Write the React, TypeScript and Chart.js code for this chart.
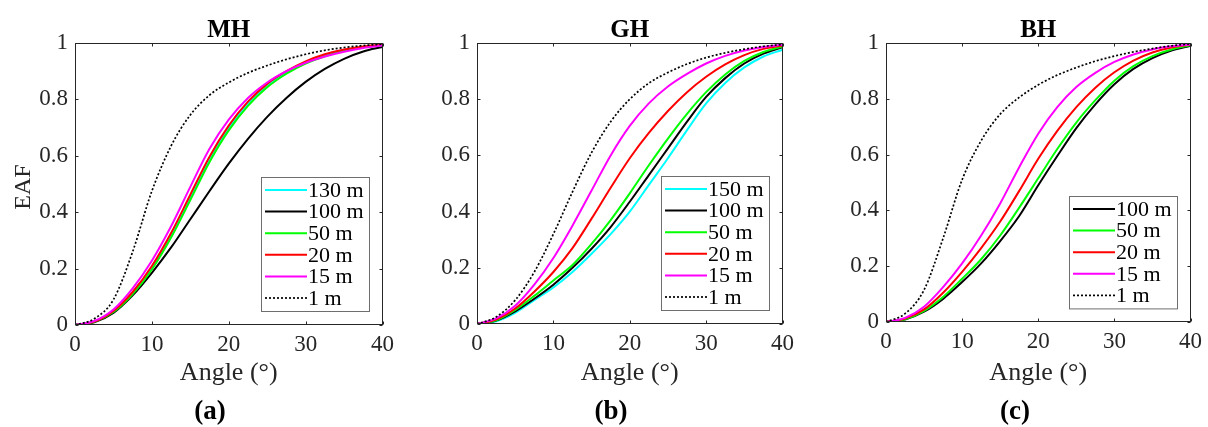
import React, { useEffect, useRef } from 'react';
import { Chart, registerables } from 'chart.js';

Chart.register(...registerables);

// ---------- data ----------
const angles = [0, 2.5, 5, 7.5, 10, 12.5, 15, 17.5, 20, 22.5, 25, 27.5, 30, 32.5, 35, 37.5, 40];
const xTicks = [0, 10, 20, 30, 40];
const xTickLabels = ['0', '10', '20', '30', '40'];
const yTicks = [0, 0.2, 0.4, 0.6, 0.8, 1];
const yTickLabels = ['0', '0.2', '0.4', '0.6', '0.8', '1'];

const panelTitles = ['MH', 'GH', 'BH'];
const panelLetters = ['(a)', '(b)', '(c)'];
const xAxisTitle = 'Angle (°)';
const yAxisTitle = 'EAF';

const mhLabels = ['130 m', '100 m', '50 m', '20 m', '15 m', '1 m'];
const mh130 = [0, 0.012, 0.048, 0.114, 0.204, 0.319, 0.454, 0.589, 0.699, 0.784, 0.848, 0.895, 0.93, 0.955, 0.973, 0.986, 0.994];
const mh100 = [0, 0.01, 0.043, 0.105, 0.185, 0.275, 0.375, 0.475, 0.572, 0.66, 0.738, 0.805, 0.862, 0.908, 0.944, 0.97, 0.986];
const mh50 = [0, 0.011, 0.046, 0.11, 0.197, 0.31, 0.443, 0.578, 0.69, 0.777, 0.843, 0.891, 0.927, 0.953, 0.972, 0.985, 0.993];
const mh20 = [0, 0.012, 0.05, 0.117, 0.209, 0.326, 0.462, 0.597, 0.707, 0.792, 0.855, 0.9, 0.935, 0.96, 0.977, 0.988, 0.994];
const mh15 = [0, 0.014, 0.055, 0.13, 0.228, 0.35, 0.49, 0.625, 0.728, 0.805, 0.86, 0.9, 0.93, 0.952, 0.969, 0.982, 0.991];
const mh1 = [0, 0.022, 0.09, 0.26, 0.475, 0.635, 0.745, 0.815, 0.86, 0.894, 0.92, 0.942, 0.96, 0.974, 0.984, 0.991, 0.996];

const ghLabels = ['150 m', '100 m', '50 m', '20 m', '15 m', '1 m'];
const gh150 = [0, 0.01, 0.04, 0.085, 0.13, 0.185, 0.25, 0.32, 0.4, 0.495, 0.59, 0.69, 0.785, 0.858, 0.913, 0.952, 0.976];
const gh100 = [0, 0.012, 0.045, 0.09, 0.14, 0.2, 0.268, 0.345, 0.435, 0.53, 0.625, 0.72, 0.808, 0.875, 0.927, 0.962, 0.985];
const gh50 = [0, 0.013, 0.05, 0.1, 0.155, 0.21, 0.285, 0.37, 0.465, 0.565, 0.66, 0.748, 0.825, 0.888, 0.936, 0.968, 0.987];
const gh20 = [0, 0.016, 0.055, 0.115, 0.185, 0.27, 0.375, 0.485, 0.59, 0.68, 0.758, 0.825, 0.88, 0.924, 0.957, 0.979, 0.991];
const gh15 = [0, 0.02, 0.065, 0.14, 0.235, 0.35, 0.475, 0.6, 0.705, 0.785, 0.845, 0.89, 0.927, 0.954, 0.973, 0.986, 0.994];
const gh1 = [0, 0.025, 0.085, 0.185, 0.32, 0.47, 0.61, 0.72, 0.8, 0.857, 0.895, 0.925, 0.948, 0.965, 0.978, 0.988, 0.995];

const bhLabels = ['100 m', '50 m', '20 m', '15 m', '1 m'];
const bh100 = [0, 0.009, 0.037, 0.083, 0.143, 0.21, 0.29, 0.38, 0.49, 0.595, 0.695, 0.78, 0.852, 0.907, 0.946, 0.973, 0.99];
const bh50 = [0, 0.01, 0.04, 0.09, 0.155, 0.225, 0.31, 0.41, 0.515, 0.62, 0.715, 0.795, 0.865, 0.917, 0.953, 0.977, 0.992];
const bh20 = [0, 0.012, 0.045, 0.105, 0.18, 0.265, 0.36, 0.47, 0.585, 0.685, 0.77, 0.84, 0.895, 0.937, 0.966, 0.984, 0.994];
const bh15 = [0, 0.015, 0.055, 0.125, 0.21, 0.31, 0.425, 0.555, 0.675, 0.77, 0.842, 0.893, 0.932, 0.959, 0.977, 0.988, 0.995];
const bh1 = [0, 0.03, 0.115, 0.3, 0.51, 0.65, 0.745, 0.805, 0.85, 0.885, 0.912, 0.935, 0.953, 0.968, 0.98, 0.99, 0.997];

// ---------- styles ----------
const styleByLabel: Record<string, { color: string; dash: number[]; width: number }> = {
  '150 m': { color: '#00FFFF', dash: [], width: 2 },
  '130 m': { color: '#00FFFF', dash: [], width: 2 },
  '100 m': { color: '#000000', dash: [], width: 2 },
  '50 m': { color: '#00FF00', dash: [], width: 2 },
  '20 m': { color: '#FF0000', dash: [], width: 2 },
  '15 m': { color: '#FF00FF', dash: [], width: 2 },
  '1 m': { color: '#000000', dash: [2, 2], width: 1.7 },
};

const FONT = "'Liberation Serif', 'Times New Roman', serif";
const TEXT_COLOR = '#262626';
const H = 427;

const panels = [
  { title: panelTitles[0], letter: panelLetters[0], yTitle: yAxisTitle, labels: mhLabels, series: [mh130, mh100, mh50, mh20, mh15, mh1],
    left: 0, width: 400, areaLeft: 75, areaRight: 383, areaBottom: 325, letterX: 210 },
  { title: panelTitles[1], letter: panelLetters[1], yTitle: '', labels: ghLabels, series: [gh150, gh100, gh50, gh20, gh15, gh1],
    left: 400, width: 400, areaLeft: 77, areaRight: 383, areaBottom: 324, letterX: 211 },
  { title: panelTitles[2], letter: panelLetters[2], yTitle: '', labels: bhLabels, series: [bh100, bh50, bh20, bh15, bh1],
    left: 800, width: 408, areaLeft: 86, areaRight: 391, areaBottom: 322, letterX: 215 },
];

const framePlugin = {
  id: 'matlabFrame',
  afterDraw(chart: any, _args: any, opts: any) {
    const { ctx, chartArea: ca } = chart;
    const xs = chart.scales.x;
    const ys = chart.scales.y;
    ctx.save();
    // box
    ctx.strokeStyle = TEXT_COLOR;
    ctx.lineWidth = 1;
    const L = Math.round(ca.left) + 0.5, R = Math.round(ca.right) - 0.5;
    const T = Math.round(ca.top) + 0.5, B = Math.round(ca.bottom) - 0.5;
    ctx.strokeRect(L, T, R - L, B - T);
    // inward ticks
    const tl = 3;
    ctx.beginPath();
    xTicks.forEach((v) => {
      const px = Math.round(xs.getPixelForValue(v)) + 0.5;
      ctx.moveTo(px, B); ctx.lineTo(px, B - tl);
      ctx.moveTo(px, T); ctx.lineTo(px, T + tl);
    });
    yTicks.forEach((v) => {
      const py = Math.round(ys.getPixelForValue(v)) + 0.5;
      ctx.moveTo(L, py); ctx.lineTo(L + tl, py);
      ctx.moveTo(R, py); ctx.lineTo(R - tl, py);
    });
    ctx.stroke();

    const cx = (ca.left + ca.right) / 2;
    ctx.fillStyle = '#000';
    ctx.textAlign = 'center';
    ctx.textBaseline = 'alphabetic';
    ctx.font = `bold 25px ${FONT}`;
    ctx.fillText(opts.title, cx, 37);
    ctx.fillStyle = TEXT_COLOR;
    ctx.font = `26px ${FONT}`;
    ctx.fillText(xAxisTitle, cx, 380);
    ctx.fillStyle = '#000';
    ctx.font = `bold 27px ${FONT}`;
    ctx.fillText(opts.letter, opts.letterX, 419);
    if (opts.yTitle) {
      ctx.save();
      ctx.translate(24, (ca.top + ca.bottom) / 2 + 3);
      ctx.rotate(-Math.PI / 2);
      ctx.fillStyle = TEXT_COLOR;
      ctx.font = `24px ${FONT}`;
      ctx.textBaseline = 'middle';
      ctx.fillText(opts.yTitle, 0, 0);
      ctx.restore();
    }

    // legend
    const ds = chart.data.datasets;
    const n = ds.length;
    const rowH = 21.6;
    const w = 108;
    const h = 26 + (n - 1) * rowH;
    const lx = Math.round(ca.right - 14 - w);
    const ly = Math.round(ca.bottom - 14 - h);
    ctx.fillStyle = '#fff';
    ctx.fillRect(lx, ly, w, h);
    ctx.strokeStyle = '#6e6e6e';
    ctx.lineWidth = 1;
    ctx.strokeRect(lx + 0.5, ly + 0.5, w, h);
    ctx.textAlign = 'left';
    ctx.textBaseline = 'middle';
    ctx.font = `22px ${FONT}`;
    ds.forEach((d: any, i: number) => {
      const y = ly + 13 + i * rowH;
      ctx.beginPath();
      ctx.strokeStyle = d.borderColor;
      ctx.lineWidth = d.borderWidth;
      ctx.setLineDash(d.borderDash || []);
      ctx.moveTo(lx + 4, y);
      ctx.lineTo(lx + 46, y);
      ctx.stroke();
      ctx.setLineDash([]);
      ctx.fillStyle = '#000';
      ctx.fillText(d.label, lx + 47, y + 1);
    });
    ctx.restore();
  },
};

function Panel({ cfg }: { cfg: any }) {
  const ref = useRef<HTMLCanvasElement>(null);
  useEffect(() => {
    const n = cfg.labels.length;
    const chart = new Chart(ref.current as HTMLCanvasElement, {
      type: 'line',
      data: {
        datasets: cfg.labels.map((lab: string, i: number) => ({
          label: lab,
          data: angles.map((a, k) => ({ x: a, y: cfg.series[i][k] })),
          borderColor: styleByLabel[lab].color,
          borderWidth: styleByLabel[lab].width,
          borderDash: styleByLabel[lab].dash,
          pointRadius: 0,
          fill: false,
          cubicInterpolationMode: 'monotone',
          order: n - i,
        })),
      },
      options: {
        responsive: false,
        maintainAspectRatio: false,
        animation: false,
        events: [],
        layout: { padding: { top: 43, right: cfg.width - cfg.areaRight, bottom: 0, left: 0 } },
        plugins: {
          legend: { display: false },
          tooltip: { enabled: false },
          title: { display: false },
          matlabFrame: { title: cfg.title, letter: cfg.letter, letterX: cfg.letterX, yTitle: cfg.yTitle },
        } as any,
        scales: {
          x: {
            type: 'linear',
            min: 0,
            max: 40,
            afterBuildTicks: (s: any) => { s.ticks = xTicks.map((v) => ({ value: v })); },
            afterFit: (s: any) => { s.height = H - cfg.areaBottom; },
            grid: { display: false, drawTicks: false },
            border: { display: false },
            ticks: {
              callback: (_v: any, idx: number) => xTickLabels[idx],
              font: { family: FONT, size: 23 },
              color: TEXT_COLOR,
              padding: 6,
              maxRotation: 0,
              autoSkip: false,
            },
          },
          y: {
            type: 'linear',
            min: 0,
            max: 1,
            afterBuildTicks: (s: any) => { s.ticks = yTicks.map((v) => ({ value: v })); },
            afterFit: (s: any) => { s.width = cfg.areaLeft; },
            grid: { display: false, drawTicks: false },
            border: { display: false },
            ticks: {
              callback: (_v: any, idx: number) => yTickLabels[idx],
              font: { family: FONT, size: 23 },
              color: TEXT_COLOR,
              padding: 7,
              autoSkip: false,
            },
          },
        },
      } as any,
      plugins: [framePlugin],
    });
    return () => chart.destroy();
  }, []);
  return (
    <canvas
      ref={ref}
      width={cfg.width}
      height={H}
      style={{ position: 'absolute', left: cfg.left, top: 0, width: cfg.width, height: H }}
    />
  );
}

export default function App() {
  return (
    <div style={{ position: 'absolute', left: 0, top: 0, width: 1208, height: H, background: '#fff' }}>
      {panels.map((p) => (
        <Panel key={p.title} cfg={p} />
      ))}
    </div>
  );
}
